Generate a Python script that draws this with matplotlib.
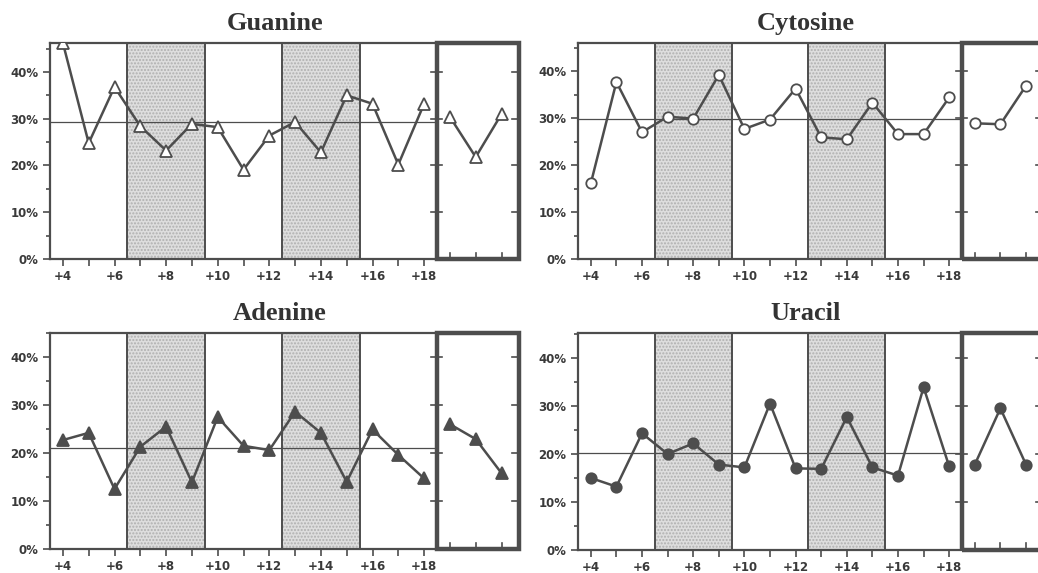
import matplotlib.pyplot as plt
import matplotlib.transforms as mtransforms
from matplotlib.patches import Rectangle
import numpy as np

# positions +4 .. +18, then three reference values drawn inside the framed box
positions = list(range(4, 19))
box_positions = [19, 20, 21]

guanine = [46.2, 24.8, 36.8, 28.4, 23.2, 28.9, 28.2, 19.1, 26.4, 29.3, 22.8, 35.0, 33.2, 20.2, 33.2]
guanine_box = [30.4, 21.8, 31.0]
guanine_mean = 29.2

cytosine = [16.1, 37.7, 27.0, 30.3, 29.9, 39.2, 27.7, 29.7, 36.3, 25.9, 25.5, 33.3, 26.6, 26.6, 34.4]
cytosine_box = [28.9, 28.7, 36.9]
cytosine_mean = 29.8

adenine = [22.7, 24.2, 12.5, 21.3, 25.5, 13.9, 27.5, 21.5, 20.6, 28.6, 24.2, 14.0, 24.9, 19.6, 14.7]
adenine_box = [26.0, 22.9, 15.8]
adenine_mean = 21.1

uracil = [15.0, 13.2, 24.3, 20.0, 22.2, 17.8, 17.2, 30.5, 17.0, 16.9, 27.7, 17.2, 15.5, 33.9, 17.4]
uracil_box = [17.8, 29.5, 17.8]
uracil_mean = 20.3

shaded = [(6.5, 9.5), (12.5, 15.5)]
y_ticks = [0, 10, 20, 30, 40]

DARK = '#4d4d4d'
TXT = '#3a3a3a'


def draw_panel(ax, title, vals, box_vals, mean, marker, filled, ymax, title_x):
    x_left, x_split, x_right = 3.5, 18.5, 21.66
    ax.set_xlim(x_left, x_right)
    ax.set_ylim(0, ymax)

    # stippled bands and divider lines
    for a, b in shaded:
        ax.axvspan(a, b, facecolor='#dedede', edgecolor='#b0b0b0', hatch='.....', lw=0, zorder=0)
    for xv in [6.5, 9.5, 12.5, 15.5]:
        ax.axvline(xv, color=DARK, lw=1.4, zorder=1)

    ax.plot([x_left, x_split], [mean, mean], color=DARK, lw=0.9, zorder=2)

    face = DARK if filled else 'white'
    ms = 8 if marker == '^' else 7.5
    style = dict(color=DARK, lw=1.8, marker=marker, markersize=ms,
                 markerfacecolor=face, markeredgecolor=DARK, markeredgewidth=1.3, zorder=3)
    ax.plot(positions, vals, **style)
    ax.plot(box_positions, box_vals, clip_on=False, **style)

    # thick framed box on the right
    ax.add_patch(Rectangle((x_split, 0), x_right - x_split, ymax, fill=False,
                           edgecolor=DARK, lw=3.2, clip_on=False, zorder=4))

    trans = mtransforms.blended_transform_factory(ax.transData, ax.transAxes)
    for xv in box_positions:
        ax.plot([xv, xv], [0, 0.03], color=DARK, lw=1.2, transform=trans, clip_on=False)
    for yv in y_ticks:
        ax.plot([x_split - 0.25, x_split + 0.2], [yv, yv], color=DARK, lw=1.2, clip_on=False)
        ax.plot([x_right - 0.25, x_right], [yv, yv], color=DARK, lw=1.2, clip_on=False)

    for side in ['left', 'bottom', 'top']:
        ax.spines[side].set_color(DARK)
        ax.spines[side].set_linewidth(1.6)
    ax.spines['right'].set_visible(False)

    ax.set_xticks(positions)
    ax.set_xticklabels(['+%d' % p if p % 2 == 0 else '' for p in positions])
    ax.set_yticks(y_ticks)
    ax.set_yticklabels(['%d%%' % v for v in y_ticks])
    ax.set_yticks([5, 15, 25, 35, 45], minor=True)
    ax.tick_params(axis='both', direction='out', color=DARK, width=1.2, length=5,
                   labelsize=8.5, labelcolor=TXT)
    ax.tick_params(axis='x', pad=3)
    ax.tick_params(axis='y', which='minor', direction='out', color=DARK, width=1.2, length=3)
    for lab in ax.get_xticklabels() + ax.get_yticklabels():
        lab.set_fontweight('bold')

    ax.text(title_x, 1.09, title, transform=ax.transAxes, ha='center', va='center',
            fontsize=19, fontweight='bold', family='Liberation Serif', color='#333333')


fig = plt.figure(figsize=(10.38, 5.73), dpi=100)
W, H = 1038, 573

# (left, top, bottom, px per unit) in pixels
panels = [
    ('Guanine', guanine, guanine_box, guanine_mean, '^', False, 46.2, (50, 43, 259, 25.8), 0.48),
    ('Cytosine', cytosine, cytosine_box, cytosine_mean, 'o', False, 46.0, (578, 43, 259, 25.6), 0.49),
    ('Adenine', adenine, adenine_box, adenine_mean, '^', True, 45.0, (50, 333, 549, 25.8), 0.49),
    ('Uracil', uracil, uracil_box, uracil_mean, 'o', True, 45.2, (578, 333, 550, 25.6), 0.49),
]

for title, vals, box_vals, mean, marker, filled, ymax, (l, t, b, ppu), tx in panels:
    width = 18.16 * ppu
    ax = fig.add_axes([l / W, (H - b) / H, width / W, (b - t) / H])
    draw_panel(ax, title, vals, box_vals, mean, marker, filled, ymax, tx)

fig.savefig('out.png', dpi=100)
